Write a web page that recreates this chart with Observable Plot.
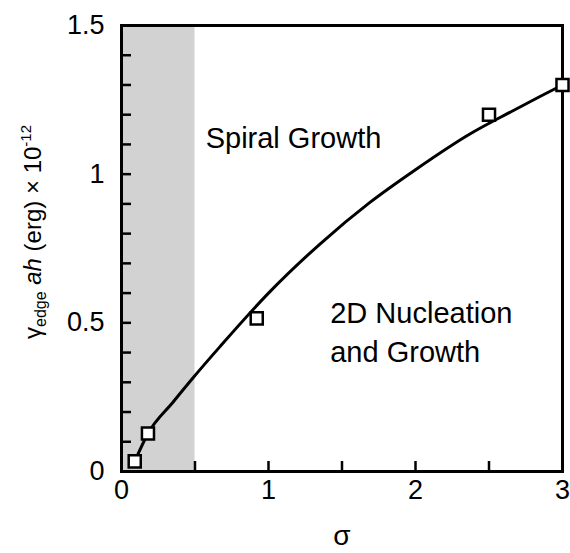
<!DOCTYPE html>
<html><head><meta charset="utf-8">
<script src="https://cdn.jsdelivr.net/npm/d3@7"></script>
<script src="https://cdn.jsdelivr.net/npm/@observablehq/plot@0.6"></script>
<style>body{margin:0;background:#fff} #chart{width:570px;height:553px}</style>
</head><body><div id="chart"></div>
<script>
// Measured points (squares)
const sigma = [0.09, 0.18, 0.92, 2.5, 3.0];
const gammaAh = [0.034, 0.128, 0.515, 1.2, 1.3];
// Fitted curve
const fitSigma = [0.09, 0.18, 0.35, 0.49, 0.67, 1.0, 1.35, 1.69, 2.0, 2.37, 2.65, 2.85, 3.0];
const fitGamma = [0.034, 0.128, 0.233, 0.317, 0.42, 0.60, 0.765, 0.905, 1.015, 1.135, 1.21, 1.262, 1.30];
// Spiral growth region
const bandStart = 0, bandEnd = 0.5;
// Ticks
const xMajor = [0, 1, 2, 3];
const xMinor = [0.5, 1, 1.5, 2, 2.5];
const yMajor = [0, 0.5, 1, 1.5];
const yMinor = [0.1, 0.2, 0.3, 0.4, 0.5, 0.6, 0.7, 0.8, 0.9, 1.0, 1.1, 1.2, 1.3, 1.4];
// Region labels
const regionLabels = ["Spiral Growth", "2D Nucleation\nand Growth"];

const points = sigma.map((s, i) => ({s, g: gammaAh[i]}));
const fit = fitSigma.map((s, i) => ({s, g: fitGamma[i]}));
const band = [{x1: bandStart, x2: bandEnd, y1: 0, y2: 1.5}];
const fmt = d => String(d);
const W = 570, H = 553, mL = 121, mR = 8, mT = 25, mB = 82;
const tickLen = 10;
const plotH = H - mT - mB, plotW = W - mL - mR;
const xTickData = 1.5 * tickLen / plotH; // tick length expressed in y units

const chart = Plot.plot({
  width: W, height: H,
  marginLeft: mL, marginRight: mR, marginTop: mT, marginBottom: mB,
  style: {fontFamily: "'Liberation Sans', Arial, sans-serif", fontSize: "27px", color: "#000", background: "#fff", overflow: "visible"},
  x: {domain: [0, 3], axis: null},
  y: {domain: [0, 1.5], axis: null},
  marks: [
    Plot.rect(band, {x1: "x1", x2: "x2", y1: "y1", y2: "y2", fill: "#d2d2d2"}),
    Plot.axisX(xMajor, {tickSize: 0, tickPadding: 8, fontSize: 27, tickFormat: fmt}),
    Plot.axisY(yMajor, {tickSize: 0, tickPadding: 17, fontSize: 27, tickFormat: fmt}),
    Plot.frame({stroke: "black", strokeWidth: 3}),
    Plot.ruleY(yMinor, {y: d => d, insetRight: plotW - tickLen, stroke: "black", strokeWidth: 2.5}),
    Plot.ruleX(xMinor, {x: d => d, y1: 0, y2: xTickData, stroke: "black", strokeWidth: 2.5}),
    Plot.line(fit, {x: "s", y: "g", curve: "monotone-x", stroke: "black", strokeWidth: 3}),
    Plot.dot(points, {x: "s", y: "g", symbol: "square", r: 6.8, fill: "white", stroke: "black", strokeWidth: 2.5}),
    Plot.text([regionLabels[0]], {x: 1.17, y: 1.118, text: d => d, fontSize: 29}),
    Plot.text([regionLabels[1]], {x: 1.42, y: 0.475, text: d => d, textAnchor: "start", lineHeight: 1.35, fontSize: 29}),
    Plot.text(["σ"], {frameAnchor: "bottom", text: d => d, dy: 73, fontSize: 28})
  ]
});
document.getElementById("chart").appendChild(chart);

const svg = d3.select(chart);
const t = svg.append("text")
  .attr("transform", "translate(41,232) rotate(-90)")
  .attr("text-anchor", "middle")
  .attr("fill", "black")
  .style("font-family", "'Liberation Sans', Arial, sans-serif")
  .style("font-size", "24px");
t.append("tspan").text("γ");
t.append("tspan").attr("font-size", "16px").attr("dy", "5").text("edge");
t.append("tspan").attr("dy", "-5").text(" ");
t.append("tspan").attr("font-style", "italic").text("ah");
t.append("tspan").text(" (erg) × 10");
t.append("tspan").attr("font-size", "15px").attr("dy", "-10").text("-12");
</script>
</body></html>
